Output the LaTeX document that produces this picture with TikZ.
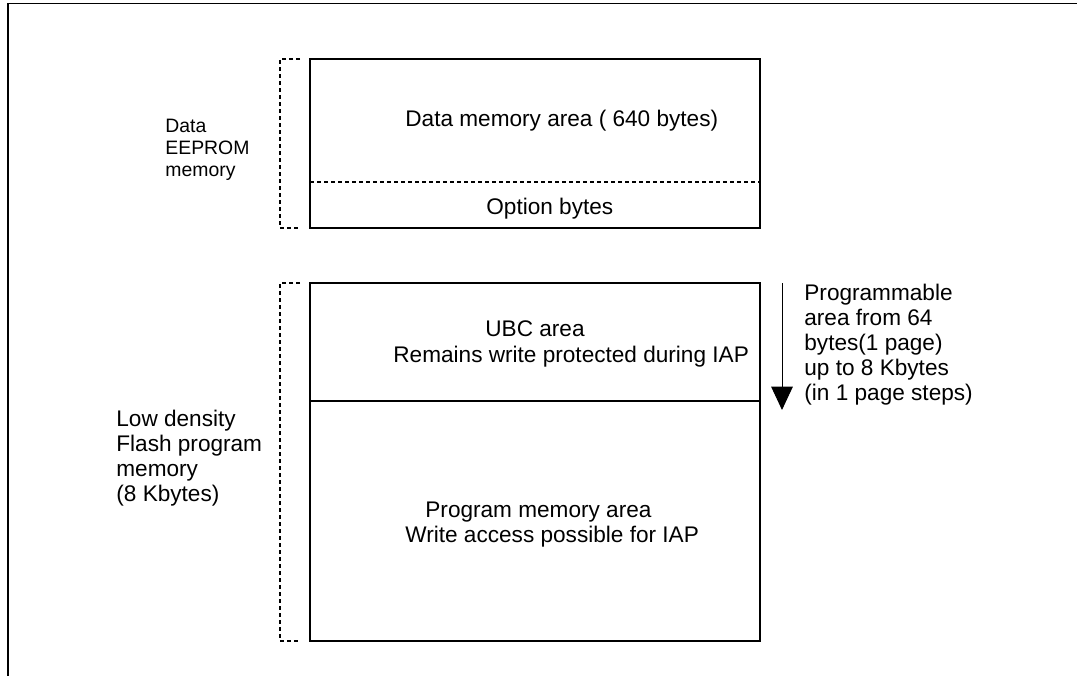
\documentclass[tikz,border=0pt]{standalone}
\usepackage{fontspec}
\setmainfont{Liberation Sans}
\usetikzlibrary{arrows.meta}

\begin{document}
\begin{tikzpicture}[x=0.5pt,y=-0.5pt,
		lbl/.style={anchor=base west,inner sep=0pt,align=left,font=\fontsize{11.3}{12.45}\selectfont},
		smalllbl/.style={lbl,font=\fontsize{9.7}{11}\selectfont},
		boxline/.style={line width=0.6pt},
		brk/.style={line width=0.6pt,dash pattern=on 2pt off 1.5pt}]
				\useasboundingbox (0,0) rectangle (1077,676);
				\draw[line width=0.8pt] (1077,3.5) -- (8,3.5) -- (8,676);
				
				\draw[boxline] (310,59) rectangle (760,228);
				\draw[brk] (310,182) -- (760,182);
				\draw[brk] (300,59) -- (280,59) -- (280,228) -- (300,228);
				
				\draw[boxline] (310,283) rectangle (760,641);
				\draw[boxline] (310,401) -- (760,401);
				\draw[brk] (300,283) -- (280,283) -- (280,641) -- (300,641);
				
				\node[smalllbl] (eeprom) at (165,176) {Data\\EEPROM\\memory};
				\node[lbl] (flash) at (116,501) {Low density\\Flash program\\memory\\(8 Kbytes)};
				
				\node[lbl] (dataarea) at (405,126) {Data memory area ( 640 bytes)};
				\node[lbl] (optbytes) at (486,214) {Option bytes};
				\node[lbl] (ubc) at (485,336) {UBC area};
				\node[lbl] (ubcnote) at (393,362) {Remains write protected during IAP};
				\node[lbl] (progarea) at (425,517) {Program memory area};
				\node[lbl] (prognote) at (405,542) {Write access possible for IAP};
				
				\coordinate (arrtop) at (782,283);
				\coordinate (arrbot) at (782,410);
				\draw[line width=0.5pt,-{Triangle[width=10.8pt,length=11.7pt]}] (arrtop) -- (arrbot);
				\node[lbl] (progsize) at (804,400) {Programmable\\area from 64\\bytes(1 page)\\up to 8 Kbytes\\(in 1 page steps)};
			\end{tikzpicture}
\end{document}
